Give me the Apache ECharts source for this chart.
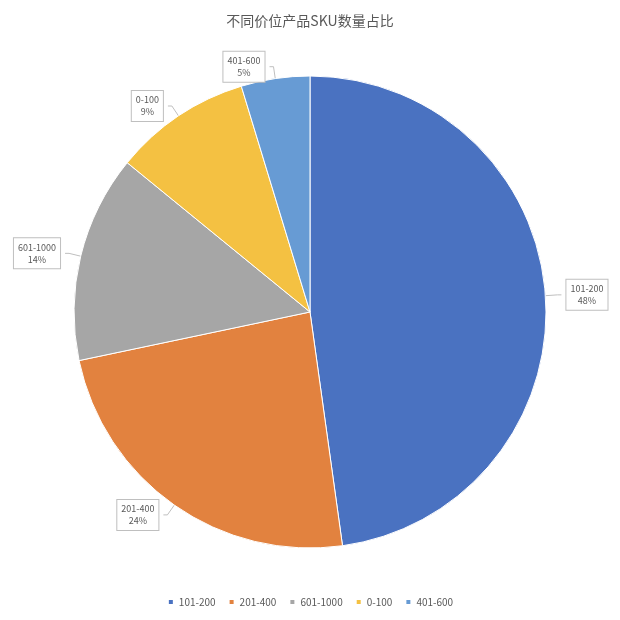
<!DOCTYPE html>
<html>
<head>
<meta charset="utf-8">
<script src="https://cdn.jsdelivr.net/npm/echarts@6/dist/echarts.min.js"></script>
<style>html,body{margin:0;padding:0;background:#fff;}#c{width:620px;height:620px;}</style>
</head>
<body>
<div id="c"></div>
<script>
var categories = ['101-200', '201-400', '601-1000', '0-100', '401-600'];
var values = [47.8, 23.9, 14.2, 9.4, 4.7];
var colors = ['#4A72C1', '#E2823F', '#A6A6A6', '#F4C142', '#679BD4'];

var chart = echarts.init(document.getElementById('c'));
var data = categories.map(function (c, i) {
  return { name: c, value: values[i], itemStyle: { color: colors[i] } };
});
chart.setOption({
  animation: false,
  title: {
    text: '不同价位产品SKU数量占比',
    left: 'center',
    top: 9,
    textStyle: { fontSize: 14, fontWeight: 'normal', color: '#595959', fontFamily: 'Noto Sans CJK SC' }
  },
  legend: {
    bottom: 8,
    left: 'center',
    icon: 'rect',
    itemWidth: 6,
    itemHeight: 6,
    itemGap: 12,
    textStyle: { fontSize: 10, color: '#595959', fontFamily: 'Noto Sans CJK SC' },
    data: categories
  },
  series: [{
    type: 'pie',
    center: [310, 312],
    radius: [0, 236],
    startAngle: 90,
    clockwise: true,
    data: data,
    itemStyle: { borderColor: '#fff', borderWidth: 1 },
    label: {
      show: true,
      position: 'outside',
      formatter: function (p) { return '{a|' + p.name + '}\n{a|' + Math.round(p.percent) + '%}'; },
      rich: { a: { fontSize: 9, lineHeight: 12, color: '#595959', align: 'center', fontFamily: 'Noto Sans CJK SC' } },
      backgroundColor: '#fff',
      borderColor: '#BFBFBF',
      borderWidth: 1,
      padding: [3, 4],
      fontFamily: 'Noto Sans CJK SC'
    },
    labelLine: {
      show: true,
      length: 12,
      length2: 4,
      lineStyle: { color: '#BFBFBF', width: 1 }
    }
  }]
});
</script>
</body>
</html>
